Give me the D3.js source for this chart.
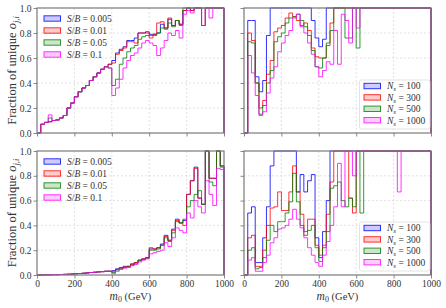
<!DOCTYPE html>
<html><head><meta charset="utf-8">
<script src="https://cdn.jsdelivr.net/npm/d3@7"></script>
<style>
body{margin:0;background:#fff}
svg{display:block}
text{font-family:"Liberation Serif","DejaVu Serif",serif;fill:#333}
</style>
</head><body>
<svg id="c" width="446" height="308"></svg>
<script>
// ---------- data ----------
const binWidth = 20;           // GeV
const xTicks = [0, 200, 400, 600, 800, 1000];
const yTicks = [0.0, 0.2, 0.4, 0.6, 0.8, 1.0];
const sbLabels = ["0.005", "0.01", "0.05", "0.1"];
const nsLabels = ["100", "300", "500", "1000"];
const seriesColors = ["#0000ff", "#ff0000", "#008000", "#ff00ff"];

// top-left : S/B variations
const tlBlue = [0,0.07,0.085,0.09,0.10,0.105,0.12,0.14,0.20,0.24, 0.29,0.33,0.36,0.38,0.42,0.45,0.48,0.51,0.53,0.55,
  0.58,0.64,0.67,0.69,0.74,0.74,0.76,0.80,0.80,0.81, 0.79,0.79,0.80,0.87,0.84,0.91,0.86,0.90,0.87,0.98,
  1.0,0.98,1.0,1.0,0.86,1.0,1.0,1.0,1.0,1.0];
const tlRed = [0,0.07,0.085,0.09,0.10,0.105,0.12,0.14,0.20,0.24, 0.29,0.33,0.36,0.38,0.42,0.45,0.48,0.51,0.53,0.55,
  0.56,0.63,0.66,0.68,0.73,0.73,0.72,0.80,0.80,0.80, 0.76,0.79,0.88,0.89,0.84,0.92,0.86,0.90,0.87,0.98,
  1.0,0.98,1.0,1.0,0.86,1.0,1.0,1.0,1.0,1.0];
const tlGreen = [0,0.07,0.085,0.12,0.10,0.105,0.12,0.14,0.20,0.24, 0.29,0.33,0.36,0.38,0.42,0.45,0.48,0.51,0.53,0.52,
  0.38,0.43,0.55,0.60,0.65,0.68,0.70,0.75,0.77,0.78, 0.78,0.78,0.80,0.84,0.83,0.88,0.85,0.90,0.86,1.0,
  1.0,1.0,1.0,1.0,1.0,1.0,1.0,1.0,1.0,1.0];
const tlMagenta = [0,0.07,0.085,0.145,0.10,0.105,0.12,0.14,0.20,0.24, 0.29,0.33,0.36,0.38,0.42,0.45,0.48,0.51,0.53,0.52,
  0.30,0.36,0.43,0.52,0.58,0.62,0.64,0.68,0.72,0.74, 0.72,0.70,0.62,0.68,0.74,0.80,0.78,0.82,0.76,0.95,
  0.98,0.96,1.0,1.0,0.86,1.0,0.92,1.0,1.0,1.0];

// top-right : N_s variations
const trBlue = [0,0.9,0.9,0.45,0.33,0.42,0.78,1.0,1.0,1.0, 1.0,1.0,1.0,1.0,1.0,1.0,1.0,1.0,0.9,0.76,
  0.69,0.75,1.0,1.0,1.0,1.0,1.0,1.0,1.0,1.0, 1.0,1.0,1.0,1.0,1.0,1.0,1.0,1.0,1.0,1.0,
  1.0,1.0,1.0,1.0,1.0,1.0,1.0,1.0,1.0,1.0];
const trRed = [0,0.80,0.74,0.40,0.20,0.26,0.47,0.58,0.81,0.84, 0.86,0.92,0.96,0.93,0.90,0.86,0.88,0.82,0.68,0.61,
  0.60,0.60,0.70,0.88,1.0,1.0,1.0,1.0,1.0,1.0, 1.0,1.0,1.0,1.0,1.0,1.0,1.0,1.0,1.0,1.0,
  1.0,1.0,1.0,1.0,1.0,1.0,1.0,1.0,1.0,1.0];
const trGreen = [0,0.73,0.72,0.40,0.15,0.22,0.40,0.50,0.73,0.77, 0.80,0.88,0.92,0.93,0.95,0.90,0.85,0.78,0.66,0.53,
  0.52,0.60,0.72,0.82,1.0,1.0,1.0,0.76,0.76,1.0, 0.68,1.0,1.0,1.0,1.0,1.0,1.0,1.0,1.0,1.0,
  1.0,1.0,1.0,1.0,1.0,1.0,1.0,1.0,1.0,1.0];
const trMagenta = [0,0.62,0.48,0.30,0.14,0.17,0.32,0.44,0.53,0.65, 0.72,0.78,0.82,0.92,0.95,0.85,0.80,0.72,0.63,0.53,
  0.45,0.50,0.57,0.55,0.82,0.55,0.95,0.90,0.72,1.0, 0.84,1.0,1.0,1.0,1.0,1.0,1.0,1.0,1.0,1.0,
  1.0,1.0,1.0,1.0,1.0,1.0,1.0,1.0,1.0,1.0];

// bottom-left : S/B variations
const blBlue = [0,0,0.002,0.002,0.003,0.003,0.004,0.005,0.006,0.008, 0.01,0.012,0.014,0.017,0.02,0.022,0.025,0.027,0.03,0.03,
  0.035,0.05,0.06,0.07,0.07,0.09,0.10,0.12,0.13,0.14, 0.21,0.21,0.22,0.25,0.32,0.28,0.37,0.45,0.42,0.44,
  0.65,0.76,0.87,0.62,0.57,1.0,0.78,0.78,1.0,0.88];
const blRed = [0,0,0.002,0.002,0.003,0.003,0.004,0.005,0.006,0.008, 0.01,0.012,0.014,0.017,0.02,0.022,0.025,0.027,0.03,0.03,
  0.03,0.045,0.055,0.065,0.07,0.085,0.10,0.12,0.13,0.14, 0.22,0.21,0.22,0.24,0.31,0.28,0.36,0.44,0.42,0.40,
  0.65,0.76,0.86,0.62,0.57,1.0,0.78,0.78,1.0,0.88];
const blGreen = [0,0,0.002,0.002,0.003,0.003,0.004,0.005,0.006,0.008, 0.01,0.012,0.014,0.017,0.02,0.022,0.025,0.027,0.03,0.03,
  0.02,0.04,0.05,0.06,0.065,0.08,0.095,0.115,0.125,0.135, 0.20,0.20,0.21,0.24,0.30,0.27,0.34,0.43,0.42,0.45,
  0.55,0.60,0.65,0.68,0.57,1.0,0.75,0.72,1.0,0.87];
const blMagenta = [0,0,0.002,0.002,0.003,0.003,0.004,0.005,0.006,0.008, 0.01,0.012,0.014,0.017,0.02,0.022,0.025,0.027,0.03,0.03,
  0.01,0.03,0.045,0.055,0.06,0.075,0.085,0.105,0.12,0.13, 0.17,0.18,0.19,0.20,0.26,0.23,0.30,0.38,0.36,0.34,
  0.50,0.46,0.60,0.55,0.50,0.76,0.65,0.56,0.86,0.85];

// bottom-right : N_s variations
const brBlue = [0,0.50,0.55,0.10,0.10,0.30,0.55,0.88,1.0,1.0, 1.0,1.0,1.0,1.0,0.67,0.81,0.67,0.76,0.81,0.30,
  0.14,0.35,0.60,1.0,1.0,1.0,1.0,1.0,1.0,1.0, 1.0,1.0,1.0,1.0,1.0,1.0,1.0,1.0,1.0,1.0,
  1.0,1.0,1.0,1.0,1.0,1.0,1.0,1.0,1.0,1.0];
const brRed = [0,0.30,0.32,0.07,0.07,0.20,0.40,0.54,0.55,0.67, 0.52,0.52,0.67,0.88,0.67,0.49,0.35,0.45,0.45,0.24,
  0.16,0.24,0.49,0.75,1.0,1.0,1.0,1.0,0.62,0.50, 1.0,1.0,1.0,1.0,1.0,1.0,1.0,1.0,1.0,1.0,
  1.0,1.0,1.0,1.0,1.0,1.0,1.0,1.0,1.0,1.0];
const brGreen = [0,0.20,0.22,0.05,0.06,0.14,0.28,0.40,0.35,0.43, 0.43,0.50,0.59,0.82,0.59,0.40,0.32,0.36,0.40,0.22,
  0.11,0.22,0.35,0.70,0.72,0.75,0.60,0.55,0.62,0.55, 1.0,0.50,1.0,1.0,1.0,1.0,1.0,1.0,1.0,1.0,
  1.0,1.0,1.0,1.0,1.0,1.0,1.0,1.0,1.0,1.0];
const brMagenta = [0,0.12,0.14,0.03,0.03,0.10,0.16,0.26,0.30,0.37, 0.38,0.40,0.45,0.53,0.45,0.38,0.30,0.22,0.16,0.10,
  0.07,0.16,0.27,0.40,0.55,0.90,0.55,1.0,1.0,0.80, 1.0,1.0,1.0,1.0,1.0,1.0,1.0,1.0,1.0,1.0,
  1.0,0.67,1.0,1.0,1.0,1.0,1.0,1.0,1.0,1.0];

// ---------- drawing ----------
const svg = d3.select("#c");
const W = 446, H = 308;
svg.append("rect").attr("width", W).attr("height", H).attr("fill", "#fff");

const cols = [{x0: 37, x1: 224}, {x0: 244, x1: 431}];
const rows = [{y0: 8, y1: 133}, {y0: 151, y1: 275}];

const panels = [
  {c: 0, r: 0, data: [tlBlue, tlRed, tlGreen, tlMagenta], leg: "sb"},
  {c: 1, r: 0, data: [trBlue, trRed, trGreen, trMagenta], leg: "ns"},
  {c: 0, r: 1, data: [blBlue, blRed, blGreen, blMagenta], leg: "sb"},
  {c: 1, r: 1, data: [brBlue, brRed, brGreen, brMagenta], leg: "ns"}
];

function legendLabel(t, kind, val) {
  if (kind === "sb") {
    t.append("tspan").attr("font-style", "italic").text("S");
    t.append("tspan").text("/");
    t.append("tspan").attr("font-style", "italic").text("B");
    t.append("tspan").text(" = " + val);
  } else {
    t.append("tspan").attr("font-style", "italic").text("N");
    t.append("tspan").attr("font-style", "italic").attr("font-size", 7).attr("dy", 2).text("s");
    t.append("tspan").attr("dy", -2).text(" = " + val);
  }
}

panels.forEach(p => {
  const {x0, x1} = cols[p.c];
  const {y0, y1} = rows[p.r];
  const xs = d3.scaleLinear().domain([0, 1000]).range([x0, x1]);
  const ys = d3.scaleLinear().domain([0, 1]).range([y1, y0]);
  const g = svg.append("g");

  // grid
  g.selectAll(".gx").data(xTicks.slice(1, -1)).join("line")
    .attr("x1", d => xs(d)).attr("x2", d => xs(d)).attr("y1", y0).attr("y2", y1)
    .attr("stroke", "#d4d4d4").attr("stroke-width", 0.7).attr("stroke-dasharray", "2,2");
  g.selectAll(".gy").data(yTicks.slice(1, -1)).join("line")
    .attr("y1", d => ys(d)).attr("y2", d => ys(d)).attr("x1", x0).attr("x2", x1)
    .attr("stroke", "#d4d4d4").attr("stroke-width", 0.7).attr("stroke-dasharray", "2,2");

  // step histograms
  const line = d3.line().x(d => xs(d[0])).y(d => ys(d[1]));
  p.data.forEach((vals, k) => {
    const pts = [[0, 0]];
    vals.forEach((v, i) => { pts.push([i * binWidth, v]); pts.push([(i + 1) * binWidth, v]); });
    pts.push([vals.length * binWidth, 0]);
    g.append("path").attr("d", line(pts)).attr("fill", "none")
      .attr("stroke", seriesColors[k]).attr("stroke-opacity", 0.8)
      .attr("stroke-width", 1).attr("stroke-linejoin", "miter");
  });

  // frame
  g.append("rect").attr("x", x0).attr("y", y0).attr("width", x1 - x0).attr("height", y1 - y0)
    .attr("fill", "none").attr("stroke", "#7a7a7a").attr("stroke-width", 1.2);

  // axes ticks
  const xAxis = d3.axisBottom(xs).tickValues(xTicks).tickSize(3.5).tickPadding(1.5)
    .tickFormat(p.r === 1 ? d3.format("d") : () => "");
  const ax = g.append("g").attr("transform", `translate(0,${y1})`).call(xAxis);
  const yAxis = d3.axisLeft(ys).tickValues(yTicks).tickSize(3.5).tickPadding(2)
    .tickFormat(p.c === 0 ? d3.format(".1f") : () => "");
  const ay = g.append("g").attr("transform", `translate(${x0},0)`).call(yAxis);
  [ax, ay].forEach(a => {
    a.select(".domain").remove();
    a.selectAll(".tick line").attr("stroke", "#7a7a7a").attr("stroke-width", 0.9);
    a.selectAll(".tick text").attr("font-family", "Liberation Serif, serif")
      .attr("font-size", 9.5).attr("fill", "#333");
  });

  // legend
  const labels = p.leg === "sb" ? sbLabels : nsLabels;
  let lx, ly, dy;
  if (p.leg === "sb") {
    lx = x0 + 7; ly = y0 + 10.5; dy = 12;
  } else {
    lx = x0 + 120; ly = y1 - 47; dy = 11.4;
    g.append("rect").attr("x", x0 + 115.5).attr("y", y1 - 53).attr("width", 70.5).attr("height", 49)
      .attr("rx", 2).attr("fill", "#fff").attr("fill-opacity", 0.85)
      .attr("stroke", "#dcdcdc").attr("stroke-width", 0.8);
  }
  labels.forEach((lab, k) => {
    const yy = ly + k * dy;
    g.append("rect").attr("x", lx).attr("y", yy - 2.7).attr("width", 16.5).attr("height", 5.4)
      .attr("fill", seriesColors[k]).attr("fill-opacity", 0.2)
      .attr("stroke", seriesColors[k]).attr("stroke-opacity", 0.8).attr("stroke-width", 1);
    const t = g.append("text").attr("x", lx + 23).attr("y", yy + 3.3).attr("font-size", 9.5);
    legendLabel(t, p.leg, lab);
  });

  // axis labels
  if (p.c === 0) {
    const cy = (y0 + y1) / 2;
    const t = g.append("text").attr("transform", `translate(16,${cy}) rotate(-90)`)
      .attr("text-anchor", "middle").attr("font-size", 12.5);
    t.append("tspan").text("Fraction of unique ");
    t.append("tspan").attr("font-style", "italic").text("o");
    t.append("tspan").attr("font-style", "italic").attr("font-size", 8.5).attr("dy", 2.5).text("j,i");
  }
  if (p.r === 1) {
    const t = g.append("text").attr("x", (x0 + x1) / 2).attr("y", 300)
      .attr("text-anchor", "middle").attr("font-size", 11.5);
    t.append("tspan").attr("font-style", "italic").text("m");
    t.append("tspan").attr("font-size", 8).attr("dy", 2).text("0");
    t.append("tspan").attr("dy", -2).attr("font-size", 10.5).text("  (GeV)");
  }
});
</script>
</body></html>
